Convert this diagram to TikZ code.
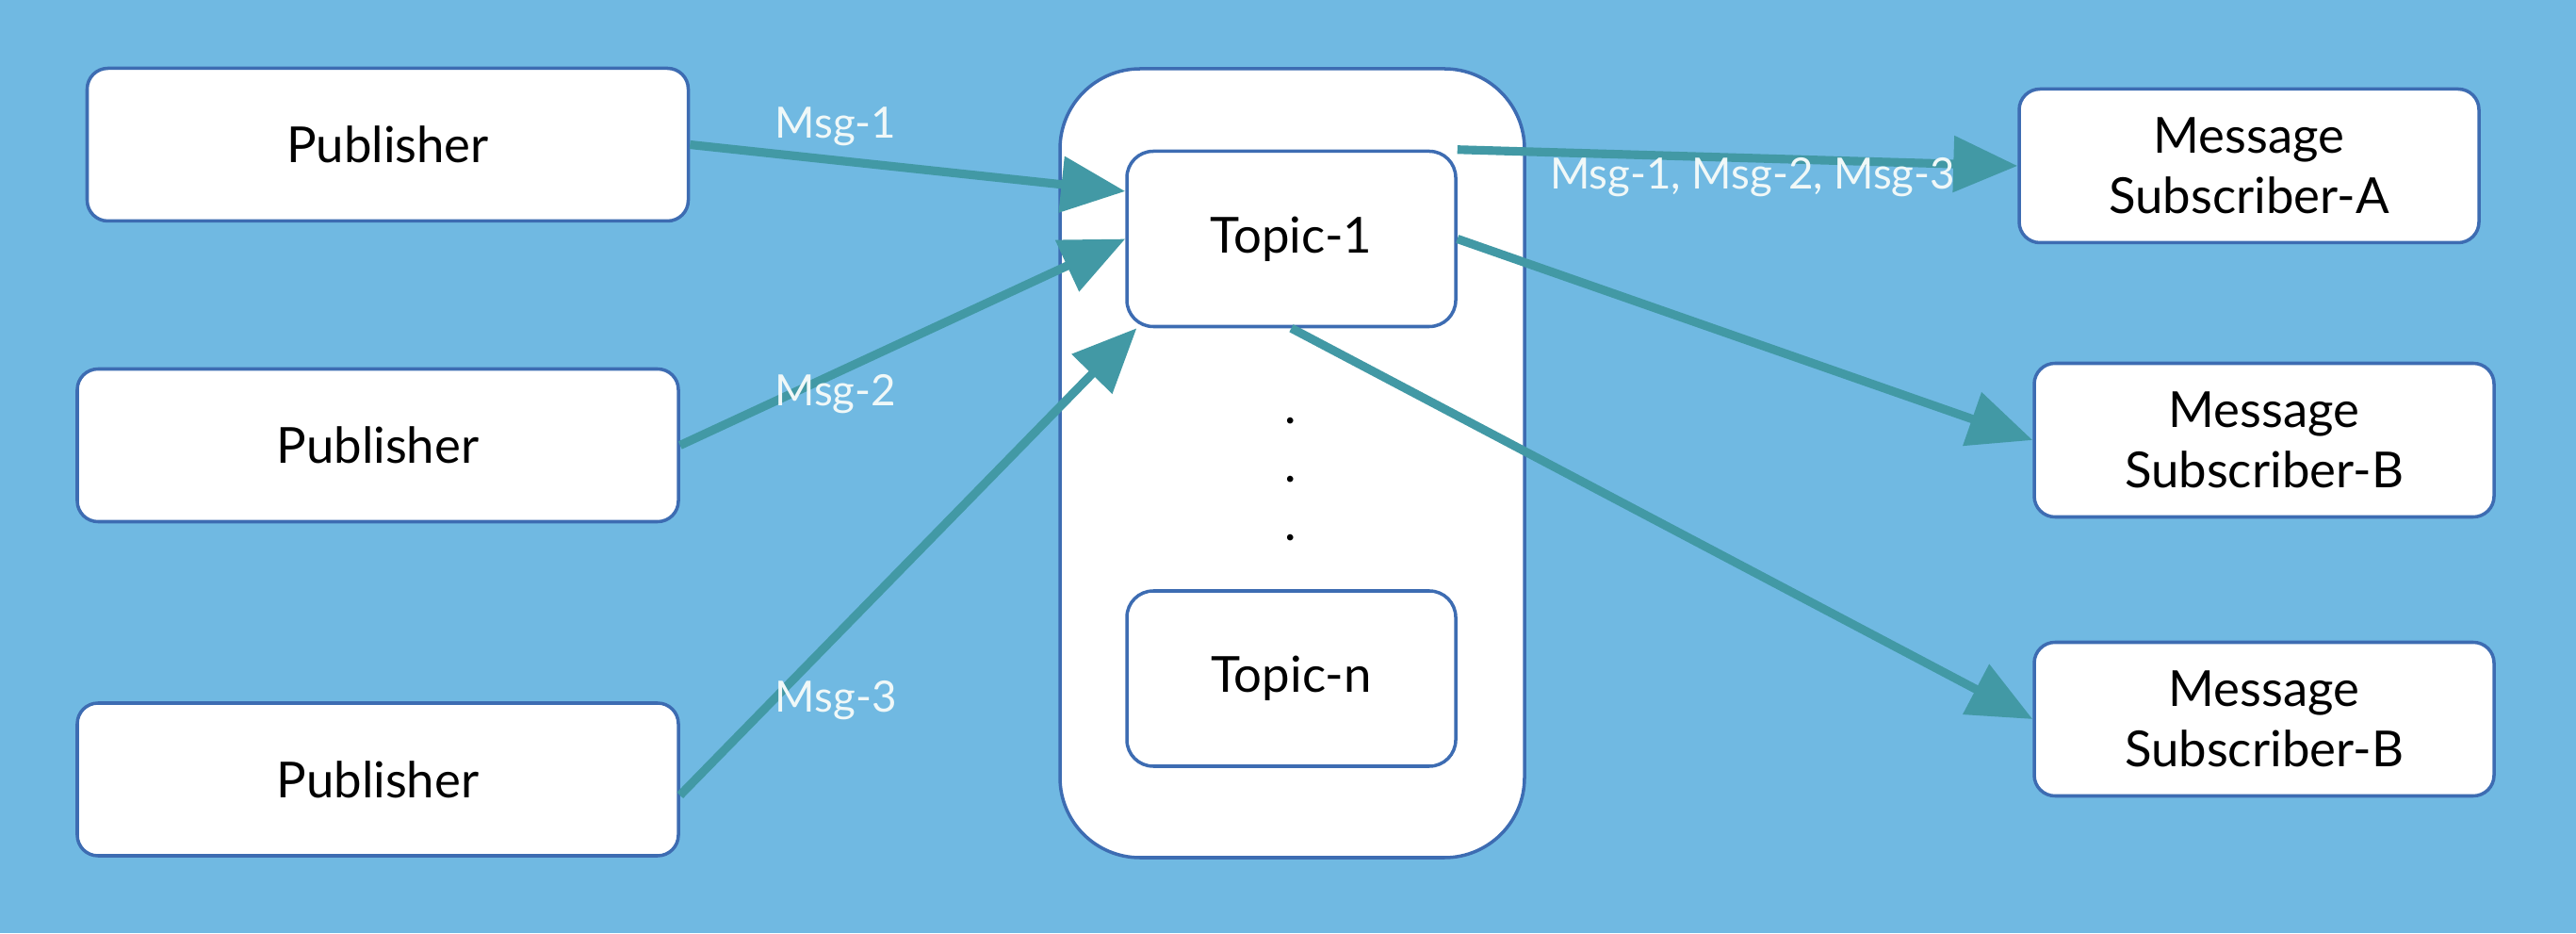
\documentclass[tikz,border=0pt]{standalone}
\usepackage{fontspec}
\setmainfont{Lato}
\usetikzlibrary{arrows.meta}
\definecolor{bgblue}{RGB}{112,185,226}
\definecolor{edgeblue}{RGB}{61,108,178}
\definecolor{flowteal}{RGB}{66,153,165}
\definecolor{msgwhite}{RGB}{240,248,248}

\begin{document}
\begin{tikzpicture}[
    box/.style={draw=edgeblue, line width=1pt, fill=white, rounded corners=0.22cm,
        inner sep=0pt, align=center, font=\fontsize{15}{18.3}\selectfont},
    topicbox/.style={box, rounded corners=0.28cm, minimum width=3.49cm, minimum height=1.86cm},
    pubbox/.style={box, minimum width=6.38cm, minimum height=1.62cm},
    subbox/.style={box, minimum width=4.88cm, minimum height=1.63cm},
    flow/.style={draw=flowteal, line width=2.6pt, -{Triangle[length=0.68cm,width=0.58cm]}},
    msg/.style={text=msgwhite, inner sep=0pt, font=\fontsize{13}{16}\selectfont}
]
    % background
    \fill[bgblue] (0,0) rectangle (27.34,9.90);
    \useasboundingbox (0,0) rectangle (27.34,9.90);

    % publishers
    \node[pubbox] (pub1) at (4.115,8.365) {Publisher};
    \node[pubbox] (pub2) at (4.01,5.175) {Publisher};
    \node[pubbox] (pub3) at (4.01,1.63) {Publisher};

    % topic container
    \node[box, rounded corners=0.85cm, minimum width=4.93cm, minimum height=8.37cm] (topics) at (13.715,4.985) {};
    \node[topicbox] (topic1) at (13.705,7.365) {Topic-1};
    \node[topicbox] (topicn) at (13.705,2.70) {Topic-n};
    \foreach \y [count=\i] in {5.40,4.78,4.16}
        \node[anchor=base, inner sep=0pt, font=\fontsize{15}{18}\selectfont] (dot\i) at (13.70,\y) {.};

    % subscribers
    \node[subbox] (subA) at (23.87,8.14) {Message\\Subscriber-A};
    \node[subbox] (subB) at (24.03,5.23) {Message\\Subscriber-B};
    \node[subbox] (subC) at (24.03,2.27) {Message\\Subscriber-B};

    % messages in
    \draw[flow] (pub1.east) -- node[msg, pos=0.335, yshift=0.36cm] {Msg-1} (topic1.164);
    \draw[flow] (pub2.east) -- node[msg, pos=0.349, yshift=-0.22cm] {Msg-2} (topic1.west);
    \draw[flow] (pub3.-3) -- node[msg, pos=0.203, xshift=0.67cm] {Msg-3} (topic1.210);

    % messages out
    \draw[flow] (topic1.north east) -- node[msg, pos=0.527, yshift=-0.2cm] {Msg-1, Msg-2, Msg-3} (subA.west);
    \draw[flow] (topic1.east) -- (subB.west);
    \draw[flow] (topic1.south) -- (subC.west);
\end{tikzpicture}
\end{document}
